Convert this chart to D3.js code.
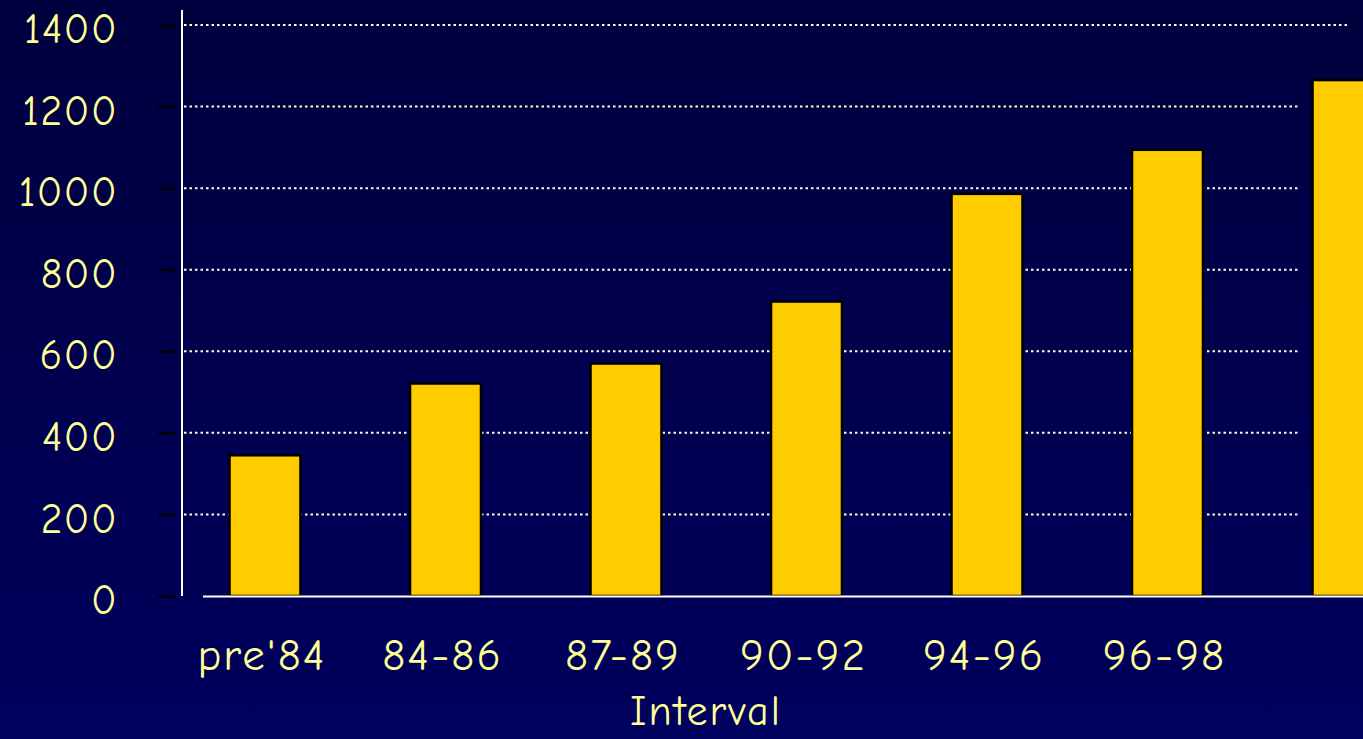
<!DOCTYPE html>
<html>
<head>
<meta charset="utf-8">
<script src="https://cdn.jsdelivr.net/npm/d3@7"></script>
<style>
  html, body { margin: 0; padding: 0; background: #000050; overflow: hidden; }
  svg { display: block; }
  text { font-family: "Comic Sans MS", "Comic Neue", "Open Sans", "DejaVu Sans", sans-serif; fill: #FFFF99; letter-spacing: 2px; }
</style>
</head>
<body>
<script>
// Interval categories and counts per interval
const categories = ["pre'84", "84-86", "87-89", "90-92", "94-96", "96-98", "98-00"];
const categoryLabels = ["pre'84", "84-86", "87-89", "90-92", "94-96", "96-98", ""];
const counts = [345, 521, 570, 722, 986, 1094, 1265];
const yTicks = [0, 200, 400, 600, 800, 1000, 1200, 1400];
const xTitle = "Interval";

const W = 1363, H = 739;
const FONT = "\"Comic Sans MS\", \"Comic Neue\", \"Open Sans\", sans-serif";
const svg = d3.select("body").append("svg").attr("width", W).attr("height", H);

// Navy backdrop, a touch darker towards the top
const defs = svg.append("defs");
const grad = defs.append("linearGradient").attr("id", "bg").attr("x1", 0).attr("y1", 0).attr("x2", 0).attr("y2", 1);
grad.append("stop").attr("offset", "0%").attr("stop-color", "#00003E");
grad.append("stop").attr("offset", "100%").attr("stop-color", "#00005E");
svg.append("rect").attr("width", W).attr("height", H).attr("fill", "url(#bg)");

const y = d3.scaleLinear().domain([0, 1400]).range([596, 25]);
const step = 180.5;
const x = d3.scaleBand()
  .domain(categories)
  .range([265 - step / 2, 265 - step / 2 + step * categories.length])
  .paddingInner(0.607)
  .paddingOuter(0.3035);

// Dotted gridlines
svg.append("g").selectAll("line")
  .data(yTicks.filter(d => d > 0))
  .join("line")
  .attr("x1", 184)
  .attr("x2", d => d === 1400 ? 1348 : 1300)
  .attr("y1", d => y(d))
  .attr("y2", d => y(d))
  .attr("stroke", "#FFFFE0")
  .attr("stroke-width", 2)
  .attr("stroke-dasharray", "2.5,3");

// Bars
svg.append("g").selectAll("rect")
  .data(counts)
  .join("rect")
  .attr("x", (d, i) => x(categories[i]))
  .attr("y", d => y(d))
  .attr("width", x.bandwidth())
  .attr("height", d => y(0) - y(d))
  .attr("fill", "#FFCC00")
  .attr("stroke", "#000000")
  .attr("stroke-width", 2.5);

// Baseline
svg.append("line")
  .attr("x1", 203).attr("x2", W)
  .attr("y1", y(0) + 0.5).attr("y2", y(0) + 0.5)
  .attr("stroke", "#FFFFF0").attr("stroke-width", 2);

// Y axis: vertical rule, black ticks and labels
const yAxis = d3.axisLeft(y).tickValues(yTicks).tickSize(17).tickPadding(40).tickFormat(d3.format("d"));
const gy = svg.append("g").attr("transform", "translate(175,0)").call(yAxis);
gy.select(".domain").remove();
gy.selectAll(".tick line").attr("stroke", "#000000").attr("stroke-width", 2.5);
gy.selectAll(".tick text")
  .attr("font-size", 42)
  .attr("fill", "#FFFF99")
  .attr("dy", "0.42em")
  .style("letter-spacing", "1.5px")
  .style("font-family", FONT);
svg.append("line")
  .attr("x1", 182).attr("x2", 182)
  .attr("y1", 10).attr("y2", y(0))
  .attr("stroke", "#FFFFF0").attr("stroke-width", 2);

// X category labels
const xAxis = d3.axisBottom(x).tickSize(0).tickPadding(0).tickFormat((d, i) => categoryLabels[i]);
const gx = svg.append("g").attr("transform", "translate(-3,654)").call(xAxis);
gx.select(".domain").remove();
gx.selectAll(".tick text")
  .attr("font-size", 45)
  .attr("fill", "#FFFF99")
  .attr("dy", "0.35em")
  .style("font-family", FONT);

// Axis title
svg.append("text")
  .attr("x", 706).attr("y", 725)
  .attr("text-anchor", "middle")
  .attr("font-size", 42)
  .style("font-family", FONT)
  .text(xTitle);
</script>
</body>
</html>
